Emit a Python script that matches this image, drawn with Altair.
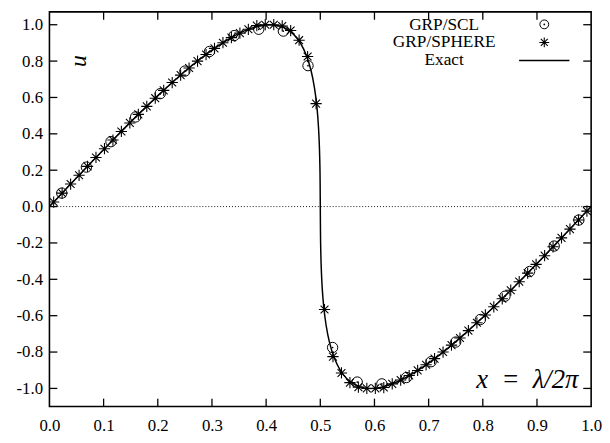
import altair as alt
import pandas as pd

# ---------------- data ----------------
sphere_x = [0.0078, 0.0234, 0.0391, 0.0547, 0.0703, 0.0859, 0.1016, 0.1172,
            0.1328, 0.1484, 0.1641, 0.1797, 0.1953, 0.2109, 0.2266, 0.2422,
            0.2578, 0.2734, 0.2891, 0.3047, 0.3203, 0.3359, 0.3516, 0.3672,
            0.3828, 0.3984, 0.4141, 0.4297, 0.4453, 0.4609, 0.4766, 0.4922,
            0.5078, 0.5234, 0.5391, 0.5547, 0.5703, 0.5859, 0.6016, 0.6172,
            0.6328, 0.6484, 0.6641, 0.6797, 0.6953, 0.7109, 0.7266, 0.7422,
            0.7578, 0.7734, 0.7891, 0.8047, 0.8203, 0.8359, 0.8516, 0.8672,
            0.8828, 0.8984, 0.9141, 0.9297, 0.9453, 0.9609, 0.9766, 0.9922]
sphere_u = [0.025, 0.074, 0.124, 0.172, 0.221, 0.270, 0.318, 0.366,
            0.413, 0.460, 0.507, 0.551, 0.596, 0.639, 0.682, 0.723,
            0.762, 0.800, 0.836, 0.870, 0.901, 0.929, 0.954, 0.975,
            0.995, 1.000, 1.000, 0.993, 0.968, 0.915, 0.825, 0.566,
            -0.566, -0.825, -0.915, -0.968, -0.993, -1.000, -1.000, -0.995,
            -0.975, -0.954, -0.929, -0.901, -0.870, -0.836, -0.800, -0.762,
            -0.723, -0.682, -0.639, -0.596, -0.551, -0.507, -0.460, -0.413,
            -0.366, -0.318, -0.270, -0.221, -0.172, -0.124, -0.074, -0.025]

scl_x = [0.0227, 0.0682, 0.1136, 0.1591, 0.2045, 0.2500, 0.2955, 0.3409,
         0.3864, 0.4318, 0.4773, 0.5227, 0.5682, 0.6136, 0.6591, 0.7045,
         0.7500, 0.7955, 0.8409, 0.8864, 0.9318, 0.9773]
scl_u = [0.074, 0.217, 0.357, 0.493, 0.621, 0.745, 0.853, 0.940,
         0.975, 0.965, 0.775, -0.775, -0.965, -0.975, -0.940, -0.853,
         -0.745, -0.621, -0.493, -0.357, -0.217, -0.074]

exact_x = [0.0, 0.0413, 0.0823, 0.1226, 0.1618, 0.1998, 0.2360, 0.2704,
           0.3026, 0.3326, 0.3600, 0.3848, 0.4070, 0.4265, 0.4433, 0.4576,
           0.4693, 0.4787, 0.4860, 0.4914, 0.4952, 0.4976, 0.4990, 0.4997,
           0.5000, 0.5003, 0.5010, 0.5024, 0.5048, 0.5086, 0.5140, 0.5213,
           0.5307, 0.5424, 0.5567, 0.5735, 0.5930, 0.6152, 0.6400, 0.6674,
           0.6974, 0.7296, 0.7640, 0.8002, 0.8382, 0.8774, 0.9177, 0.9587, 1.0]
exact_u = [0.0, 0.1305, 0.2588, 0.3827, 0.5, 0.6088, 0.7071, 0.7934,
           0.8660, 0.9239, 0.9659, 0.9914, 1.0, 0.9914, 0.9659, 0.9239,
           0.8660, 0.7934, 0.7071, 0.6088, 0.5, 0.3827, 0.2588, 0.1305,
           0.0, -0.1305, -0.2588, -0.3827, -0.5, -0.6088, -0.7071, -0.7934,
           -0.8660, -0.9239, -0.9659, -0.9914, -1.0, -0.9914, -0.9659, -0.9239,
           -0.8660, -0.7934, -0.7071, -0.6088, -0.5, -0.3827, -0.2588, -0.1305, 0.0]

x_ticks = [0.0, 0.1, 0.2, 0.3, 0.4, 0.5, 0.6, 0.7, 0.8, 0.9, 1.0]
y_ticks = [-1.0, -0.8, -0.6, -0.4, -0.2, 0.0, 0.2, 0.4, 0.6, 0.8, 1.0]
inner_x_ticks = [0.1, 0.2, 0.3, 0.4, 0.5, 0.6, 0.7, 0.8, 0.9]
legend_labels = ["GRP/SCL", "GRP/SPHERE", "Exact"]
y_label = "u"
x_label = "x\u2002=\u2002λ/2π"

# ---------------- styling ----------------
W, H = 549, 400
FONT = "Liberation Serif"
TICK = 8
STAR = "M-1,0L1,0M0,-1L0,1M-0.7,-0.7L0.7,0.7M-0.7,0.7L0.7,-0.7"

xs = alt.Scale(domain=[0, 1], nice=False, zero=False)
ys = alt.Scale(domain=[-1.0996, 1.0708], nice=False, zero=False)

x_axis = alt.Axis(values=x_ticks, format=".1f", labelFont=FONT, labelFontSize=17,
                  labelColor="black", ticks=False, domain=False, grid=False,
                  labelPadding=24, labelBaseline="alphabetic", labelFlush=False,
                  labelOverlap=False, title=None)
y_axis = alt.Axis(values=y_ticks,
                  labelExpr="datum.value < 0 ? '-' + format(-datum.value, '.1f') : format(datum.value, '.1f')",
                  labelFont=FONT, labelFontSize=17, labelColor="black",
                  ticks=False, domain=False, grid=False, labelPadding=7,
                  labelOverlap=False, labelFlush=False, title=None)

X = alt.X("x:Q", scale=xs, axis=x_axis)
Y = alt.Y("u:Q", scale=ys, axis=y_axis)

exact_df = pd.DataFrame({"x": exact_x, "u": exact_u})
sphere_df = pd.DataFrame({"x": sphere_x, "u": sphere_u})
scl_df = pd.DataFrame({"x": scl_x, "u": scl_u})
xt_df = pd.DataFrame({"x": inner_x_ticks})
yt_df = pd.DataFrame({"u": y_ticks})

zero = alt.Chart(pd.DataFrame({"u": [0.0]})).mark_rule(
    color="black", strokeWidth=0.9, strokeDash=[1, 2]).encode(y=Y)

line = alt.Chart(exact_df).mark_line(
    color="black", strokeWidth=1.5, interpolate="monotone", clip=True).encode(x=X, y=Y)

stars = alt.Chart(sphere_df).mark_point(
    shape=STAR, size=130, color="black", strokeWidth=1.1, filled=False,
    opacity=1, clip=True).encode(x=X, y=Y)

circles = alt.Chart(scl_df).mark_point(
    shape="circle", size=110, color="black", strokeWidth=1.0, filled=False,
    opacity=1, clip=True).encode(x=X, y=Y)

dots = alt.Chart(scl_df).mark_circle(size=3, color="black", opacity=1,
                                     clip=True).encode(x=X, y=Y)

# inward ticks on all four sides
tb = alt.Chart(xt_df).mark_rule(color="black", strokeWidth=1.3).encode(
    x=X, y=alt.value(H), y2=alt.value(H - TICK))
tt = alt.Chart(xt_df).mark_rule(color="black", strokeWidth=1.3).encode(
    x=X, y=alt.value(0), y2=alt.value(TICK))
tl = alt.Chart(yt_df).mark_rule(color="black", strokeWidth=1.3).encode(
    y=Y, x=alt.value(0), x2=alt.value(TICK))
tr = alt.Chart(yt_df).mark_rule(color="black", strokeWidth=1.3).encode(
    y=Y, x=alt.value(W), x2=alt.value(W - TICK))

# key (top right)
leg_layers = []
for i, lab in enumerate(legend_labels):
    leg_layers.append(
        alt.Chart(pd.DataFrame({"label": [lab]})).mark_text(
            font=FONT, fontSize=17.5, color="black", align="center",
            baseline="alphabetic").encode(
            x=alt.value(400), y=alt.value(18 + 18 * i), text="label:N"))
one = pd.DataFrame({"k": [0]})
leg_circle = alt.Chart(one).mark_point(
    shape="circle", size=80, color="black", strokeWidth=1.0, filled=False,
    opacity=1).encode(x=alt.value(501.5), y=alt.value(12.7))
leg_dot = alt.Chart(one).mark_circle(size=3, color="black", opacity=1).encode(
    x=alt.value(501.5), y=alt.value(12.7))
leg_star = alt.Chart(one).mark_point(
    shape=STAR, size=100, color="black", strokeWidth=1.1, filled=False,
    opacity=1).encode(x=alt.value(501.5), y=alt.value(31))
leg_line = alt.Chart(one).mark_rule(color="black", strokeWidth=1.5).encode(
    x=alt.value(476), x2=alt.value(527), y=alt.value(49.3))

ylab = alt.Chart(pd.DataFrame({"t": [y_label]})).mark_text(
    font=FONT, fontSize=24, fontStyle="italic", color="black", angle=270,
    align="center", baseline="middle").encode(
    x=alt.value(30), y=alt.value(50), text="t:N")
xlab = alt.Chart(pd.DataFrame({"t": [x_label]})).mark_text(
    font=FONT, fontSize=27, fontStyle="italic", color="black", align="right",
    baseline="alphabetic").encode(
    x=alt.value(536), y=alt.value(381), text="t:N")

chart = alt.layer(
    zero, line, stars, circles, dots, tb, tt, tl, tr,
    *leg_layers, leg_circle, leg_dot, leg_star, leg_line, ylab, xlab
).properties(
    width=W, height=H,
    autosize=alt.AutoSizeParams(type="none"),
    padding={"left": 42, "top": 1, "right": 11, "bottom": 30},
    background="white",
).configure_view(stroke="black", strokeWidth=1.6)

chart.save("out.html", embed_options={"renderer": "svg", "actions": False})
